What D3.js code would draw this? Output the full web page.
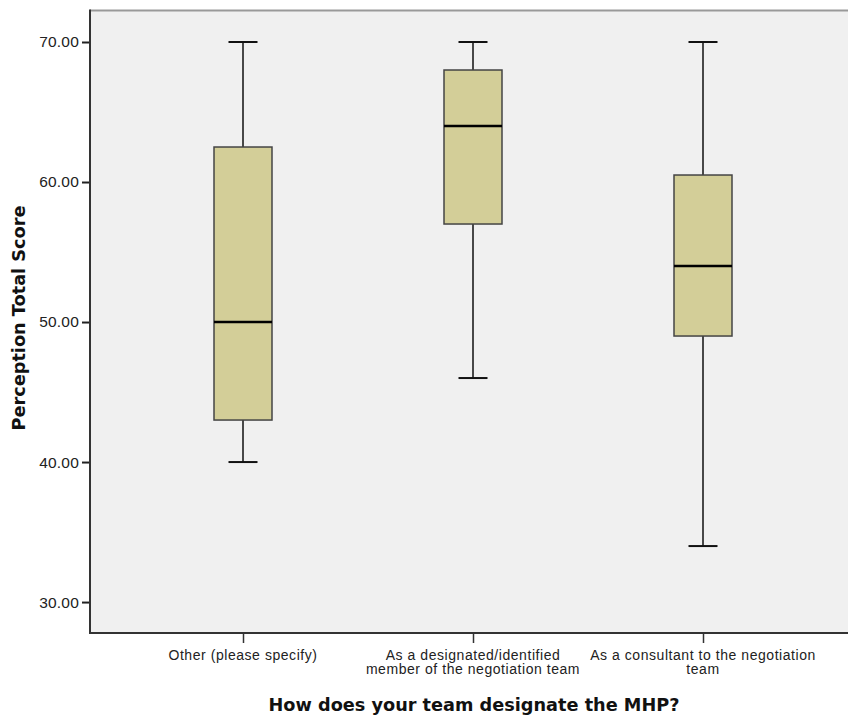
<!DOCTYPE html>
<html><head><meta charset="utf-8">
<script src="https://cdn.jsdelivr.net/npm/d3@7"></script>
<style>body{margin:0;background:#fff}svg{display:block}</style>
</head><body>
<svg id="c" width="848" height="715"></svg>
<script>
const categories = [["Other (please specify)"], ["As a designated/identified", "member of the negotiation team"], ["As a consultant to the negotiation", "team"]];
const categoryKeys = ["other", "designated", "consultant"];
const whiskerLow = [40, 46, 34];
const q1 = [43, 57, 49];
const median = [50, 64, 54];
const q3 = [62.5, 68, 60.5];
const whiskerHigh = [70, 70, 70];
const yTicks = [30, 40, 50, 60, 70];

const svg = d3.select("#c");
const L = 90, R = 860, T = 10.5, B = 633;
const sans = "'Liberation Sans',Arial,sans-serif";
const bold = "'DejaVu Sans',Verdana,sans-serif";
const y = d3.scaleLinear().domain([27.79, 72.25]).range([B, T]);
const x = d3.scalePoint().domain(categoryKeys).range([243, 703]);

svg.append("rect").attr("x", L).attr("y", T).attr("width", R - L).attr("height", B - T).attr("fill", "#f0f0f0");
svg.append("line").attr("x1", L).attr("x2", R).attr("y1", T).attr("y2", T).attr("stroke", "#999").attr("stroke-width", 2);

const boxW = 58, capW = 29;
const g = svg.append("g");
categoryKeys.forEach((k, i) => {
  const cx = x(k);
  g.append("line").attr("x1", cx).attr("x2", cx).attr("y1", y(whiskerHigh[i])).attr("y2", y(q3[i])).attr("stroke", "#111").attr("stroke-width", 1.5);
  g.append("line").attr("x1", cx).attr("x2", cx).attr("y1", y(q1[i])).attr("y2", y(whiskerLow[i])).attr("stroke", "#111").attr("stroke-width", 1.5);
  g.append("line").attr("x1", cx - capW/2).attr("x2", cx + capW/2).attr("y1", y(whiskerHigh[i])).attr("y2", y(whiskerHigh[i])).attr("stroke", "#111").attr("stroke-width", 2);
  g.append("line").attr("x1", cx - capW/2).attr("x2", cx + capW/2).attr("y1", y(whiskerLow[i])).attr("y2", y(whiskerLow[i])).attr("stroke", "#111").attr("stroke-width", 2);
  g.append("rect").attr("x", cx - boxW/2).attr("y", y(q3[i])).attr("width", boxW).attr("height", y(q1[i]) - y(q3[i]))
    .attr("fill", "#d3ce98").attr("stroke", "#444").attr("stroke-width", 1.5);
  g.append("line").attr("x1", cx - boxW/2).attr("x2", cx + boxW/2).attr("y1", y(median[i])).attr("y2", y(median[i])).attr("stroke", "#000").attr("stroke-width", 2.5);
});

const yAxis = svg.append("g").attr("transform", `translate(${L},0)`)
  .call(d3.axisLeft(y).tickValues(yTicks).tickFormat(d3.format(".2f")).tickSize(8).tickPadding(3));
yAxis.select(".domain").remove();
yAxis.selectAll(".tick line").attr("stroke", "#222").attr("stroke-width", 2);
yAxis.selectAll(".tick text").attr("font-size", 15.5).attr("fill", "#222").attr("font-family", sans).attr("letter-spacing", 0.2);
svg.append("line").attr("x1", L).attr("x2", L).attr("y1", T - 1).attr("y2", B + 1).attr("stroke", "#333").attr("stroke-width", 2);

const xAxis = svg.append("g").attr("transform", `translate(0,${B})`)
  .call(d3.axisBottom(x).tickSize(10).tickFormat(""));
xAxis.select(".domain").remove();
xAxis.selectAll(".tick line").attr("stroke", "#333").attr("stroke-width", 1.5);
svg.append("line").attr("x1", L).attr("x2", R).attr("y1", B).attr("y2", B).attr("stroke", "#333").attr("stroke-width", 2);

categoryKeys.forEach((k, i) => {
  const t = svg.append("text").attr("x", x(k)).attr("y", 659.5).attr("text-anchor", "middle").attr("font-size", 14)
    .attr("font-family", sans).attr("letter-spacing", 0.55).attr("fill", "#222");
  categories[i].forEach((line, j) => t.append("tspan").attr("x", x(k)).attr("dy", j === 0 ? 0 : 14.5).text(line));
});

svg.append("text").attr("x", 474).attr("y", 711).attr("text-anchor", "middle").attr("font-size", 17.7).attr("font-weight", "bold")
  .attr("font-family", bold).attr("fill", "#111").text("How does your team designate the MHP?");
svg.append("text").attr("transform", "translate(24.5,318) rotate(-90)").attr("text-anchor", "middle").attr("font-size", 17.7).attr("font-weight", "bold")
  .attr("font-family", bold).attr("fill", "#111").text("Perception Total Score");
</script>
</body></html>
